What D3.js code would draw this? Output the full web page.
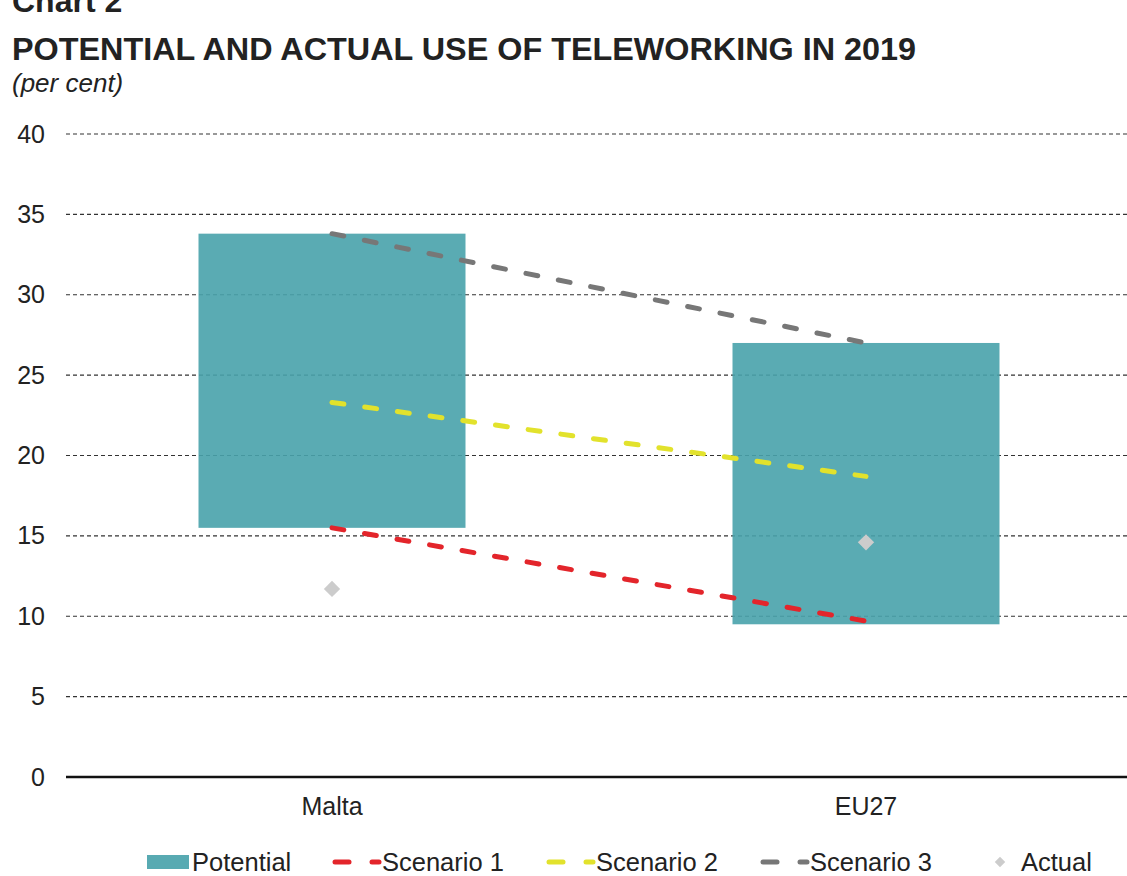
<!DOCTYPE html>
<html>
<head>
<meta charset="utf-8">
<script src="https://cdn.jsdelivr.net/npm/d3@7"></script>
<style>
  body { margin: 0; background: #fff; }
  svg text { font-family: "Liberation Sans", Arial, sans-serif; fill: #222; }
</style>
</head>
<body>
<script>
var countries = ["Malta", "EU27"];
var potentialLow = [15.5, 9.5];
var potentialHigh = [33.8, 27.0];
var scenario1 = [15.5, 9.7];
var scenario2 = [23.3, 18.7];
var scenario3 = [33.8, 27.0];
var actual = [11.7, 14.6];
var yTicks = [0, 5, 10, 15, 20, 25, 30, 35, 40];

var width = 1127, height = 876;

var svg = d3.select("body").append("svg")
	.attr("width", width)
	.attr("height", height);

// titles (the "Chart 2" line is cut by the top edge in the original)
svg.append("text")
	.attr("x", 12).attr("y", 12)
	.style("font-size", "32px").style("font-weight", "bold")
	.text("Chart 2");
svg.append("text")
	.attr("x", 12).attr("y", 60)
	.attr("textLength", 904).attr("lengthAdjust", "spacingAndGlyphs")
	.style("font-size", "32px").style("font-weight", "bold")
	.text("POTENTIAL AND ACTUAL USE OF TELEWORKING IN 2019");
svg.append("text")
	.attr("x", 12).attr("y", 92)
	.style("font-size", "26px").style("font-style", "italic")
	.text("(per cent)");

var x = d3.scaleBand()
	.domain(countries)
	.range([65, 1133])
	.paddingInner(0.5)
	.paddingOuter(0.25);

var y = d3.scaleLinear()
	.domain([0, 40])
	.range([777, 134]);

// gridlines
svg.append("g")
	.selectAll("line")
	.data(yTicks.filter(function(d) { return d > 0; }))
	.enter().append("line")
	.attr("x1", 66).attr("x2", width)
	.attr("y1", function(d) { return y(d); })
	.attr("y2", function(d) { return y(d); })
	.style("stroke", "#333")
	.style("stroke-width", 1.2)
	.style("stroke-dasharray", "4,3");

// y labels
var yAxis = d3.axisLeft(y).tickValues(yTicks).tickSize(0).tickPadding(0);
var ya = svg.append("g").attr("transform", "translate(45,0)").call(yAxis);
ya.select(".domain").remove();
ya.selectAll("text").style("font-size", "25px").style("fill", "#222")
	.style("font-family", "Liberation Sans, Arial, sans-serif");

// potential bars
svg.append("g")
	.selectAll("rect")
	.data(countries)
	.enter().append("rect")
	.attr("x", function(d) { return x(d); })
	.attr("width", x.bandwidth())
	.attr("y", function(d, i) { return y(potentialHigh[i]); })
	.attr("height", function(d, i) { return y(potentialLow[i]) - y(potentialHigh[i]); })
	.attr("fill", "#48a2ab")
	.attr("fill-opacity", 0.9);

// axis line
svg.append("line")
	.attr("x1", 66).attr("x2", width)
	.attr("y1", y(0)).attr("y2", y(0))
	.style("stroke", "#111").style("stroke-width", 2.5);

// category labels
var xAxis = d3.axisBottom(x).tickSize(0).tickPadding(0);
var xa = svg.append("g").attr("transform", "translate(0,797)").call(xAxis);
xa.select(".domain").remove();
xa.selectAll("text").style("font-size", "25px").style("fill", "#222")
	.style("font-family", "Liberation Sans, Arial, sans-serif");

// scenario lines
var scenarios = [
	{ name: "Scenario 1", values: scenario1, color: "#e3252b" },
	{ name: "Scenario 2", values: scenario2, color: "#e2e22c" },
	{ name: "Scenario 3", values: scenario3, color: "#777777" }
];

var line = d3.line()
	.x(function(d, i) { return x(countries[i]) + x.bandwidth() / 2; })
	.y(function(d) { return y(d); });

svg.append("g")
	.selectAll("path")
	.data(scenarios)
	.enter().append("path")
	.attr("d", function(d) { return line(d.values); })
	.style("fill", "none")
	.style("stroke", function(d) { return d.color; })
	.style("stroke-width", 5)
	.style("stroke-linecap", "round")
	.style("stroke-dasharray", "12,21");

// actual markers
var diamond = d3.symbol().type(d3.symbolDiamond2).size(170);
svg.append("g")
	.selectAll("path")
	.data(actual)
	.enter().append("path")
	.attr("d", diamond)
	.attr("transform", function(d, i) {
		return "translate(" + (x(countries[i]) + x.bandwidth() / 2) + "," + y(d) + ")";
	})
	.attr("fill", "#cccccc");

// legend
var ly = 862;
var lg = svg.append("g");
lg.append("rect").attr("x", 147).attr("y", ly - 7).attr("width", 42).attr("height", 14).attr("fill", "#58aab2");
lg.append("text").attr("x", 192).attr("y", ly + 9).style("font-size", "25.5px").text("Potential");

var legendX = [335, 549, 763];
scenarios.forEach(function(s, i) {
	lg.append("line")
		.attr("x1", legendX[i]).attr("x2", legendX[i] + 14)
		.attr("y1", ly).attr("y2", ly)
		.style("stroke", s.color).style("stroke-width", 5).style("stroke-linecap", "round");
	lg.append("line")
		.attr("x1", legendX[i] + 37).attr("x2", legendX[i] + 44)
		.attr("y1", ly).attr("y2", ly)
		.style("stroke", s.color).style("stroke-width", 5).style("stroke-linecap", "round");
	lg.append("text").attr("x", legendX[i] + 47).attr("y", ly + 9).style("font-size", "25.5px").text(s.name);
});

lg.append("path").attr("d", d3.symbol().type(d3.symbolDiamond2).size(70))
	.attr("transform", "translate(1000," + ly + ")").attr("fill", "#cccccc");
lg.append("text").attr("x", 1021).attr("y", ly + 9).style("font-size", "25.5px").text("Actual");
</script>
</body>
</html>
